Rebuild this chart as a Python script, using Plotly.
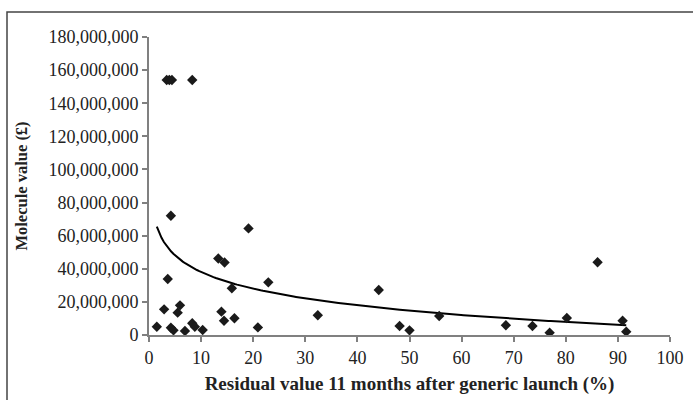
import numpy as np
import plotly.graph_objects as go

# Residual value 11 months after generic launch (%)
residual_pct = [1.5, 2.9, 3.6, 4.2, 4.2, 4.7, 5.5, 5.95, 6.9, 8.3, 8.8, 10.3,
                13.3, 14.5, 13.9, 14.4, 15.9, 16.4, 19.1, 20.9, 22.9, 32.4,
                44.1, 48.1, 50.0, 55.7, 68.5, 73.6, 76.9, 80.2, 86.1, 90.9, 91.6,
                3.4, 3.9, 4.4, 8.3]
# Molecule value (GBP)
molecule_value = [5.0e6, 15.5e6, 33.8e6, 72.0e6, 4.4e6, 2.8e6, 13.5e6, 17.9e6,
                  2.4e6, 7.1e6, 5.0e6, 3.0e6,
                  46.2e6, 43.8e6, 14.1e6, 8.6e6, 28.2e6, 10.1e6, 64.4e6, 4.6e6,
                  31.8e6, 11.9e6,
                  27.2e6, 5.4e6, 2.8e6, 11.5e6, 5.9e6, 5.4e6, 1.4e6, 10.3e6,
                  43.9e6, 8.6e6, 2.0e6,
                  154e6, 154e6, 154e6, 154e6]

x_ticks = [0, 10, 20, 30, 40, 50, 60, 70, 80, 90, 100]
y_ticks = [0, 20e6, 40e6, 60e6, 80e6, 100e6, 120e6, 140e6, 160e6, 180e6]
y_tick_labels = ["0", "20,000,000", "40,000,000", "60,000,000", "80,000,000",
                 "100,000,000", "120,000,000", "140,000,000", "160,000,000",
                 "180,000,000"]

x_arr = np.array(residual_pct)
y_arr = np.array(molecule_value)
b, a = np.polyfit(np.log(x_arr), y_arr, 1)
xt = np.linspace(x_arr.min(), x_arr.max(), 200)
yt = a + b * np.log(xt)

FONT = "Liberation Serif"

fig = go.Figure()
fig.add_trace(go.Scatter(
    x=xt, y=yt, mode="lines",
    line=dict(color="#000000", width=2),
    hoverinfo="skip", showlegend=False))
fig.add_trace(go.Scatter(
    x=residual_pct, y=molecule_value, mode="markers",
    marker=dict(symbol="diamond", size=8, color="#1a1a1a",
                line=dict(width=0)),
    showlegend=False))

fig.update_layout(
    width=693, height=400,
    margin=dict(l=149, r=23, t=37, b=65),
    paper_bgcolor="white", plot_bgcolor="white",
    font=dict(family=FONT, size=18, color="#222222"),
    xaxis=dict(
        range=[0, 100], tickvals=x_ticks, showgrid=False, zeroline=False,
        showline=True, linecolor="#808080", linewidth=2, automargin=False,
        ticks="outside", ticklen=5, tickcolor="#808080", tickwidth=1.5,
        tickfont=dict(family=FONT, size=18, color="#222222"),
        title=dict(text="<b>Residual value 11 months after generic launch (%)</b>",
                   font=dict(family=FONT, size=19, color="#222222"), standoff=10),
    ),
    yaxis=dict(
        range=[0, 180e6], tickvals=y_ticks, ticktext=y_tick_labels,
        showgrid=False, zeroline=False, automargin=False,
        showline=True, linecolor="#808080", linewidth=2,
        ticks="outside", ticklen=5, tickcolor="#808080", tickwidth=1.5,
        tickfont=dict(family=FONT, size=18, color="#222222"),
        title=dict(text="<b>Molecule value (£)</b>",
                   font=dict(family=FONT, size=16.5, color="#222222"), standoff=17),
    ),
    shapes=[dict(type="rect", xref="paper", yref="paper",
                 x0=-142 / 521, x1=1.05, y0=-0.3, y1=1 + 25 / 298,
                 line=dict(color="#444444", width=1.5), fillcolor="rgba(0,0,0,0)",
                 layer="below")],
)

fig.write_html("out.html", config={"displayModeBar": False},
               post_script="document.body.style.margin='0';")
